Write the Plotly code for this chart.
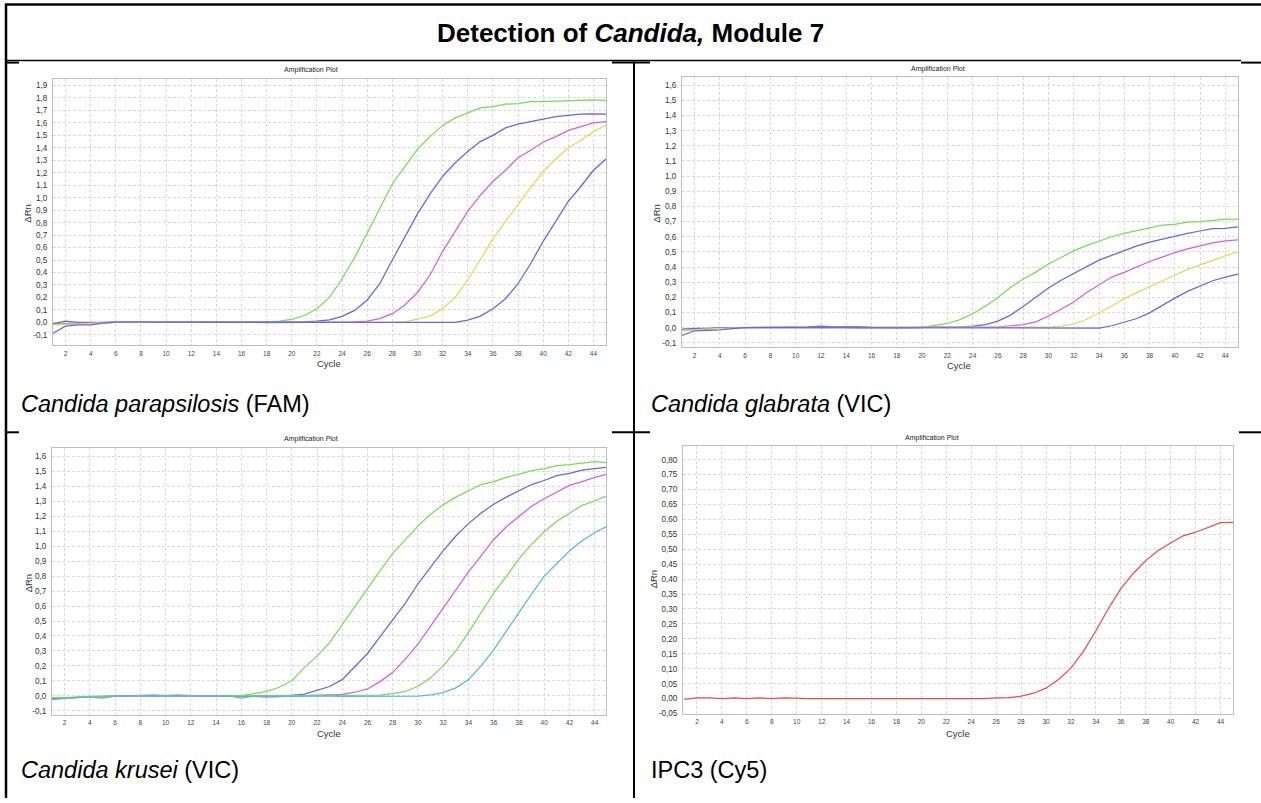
import plotly.graph_objects as go

W, H = 1261, 803

# ---------------- data ----------------
cycles = list(range(1, 46))

# Panel 1: Candida parapsilosis (FAM)
fam_green = [-0.01, -0.01, -0.008, -0.005, 0.0, 0.002, 0.002, 0.002, 0.001, 0.0,
             0.001, 0.0, 0.001, 0.001, 0.001, 0.001, 0.0, 0.0, 0.01, 0.025,
             0.055, 0.11, 0.2, 0.35, 0.52, 0.72, 0.92, 1.11, 1.25, 1.39,
             1.49, 1.58, 1.64, 1.68, 1.72, 1.73, 1.75, 1.755, 1.77, 1.77,
             1.775, 1.78, 1.78, 1.785, 1.78]
fam_blue1 = [-0.01, 0.01, 0.0, -0.003, 0.0, 0.003, 0.003, 0.002, 0.003, 0.002,
             0.002, 0.002, 0.003, 0.003, 0.003, 0.003, 0.002, 0.0, 0.0, 0.002,
             0.005, 0.01, 0.02, 0.048, 0.096, 0.18, 0.31, 0.50, 0.69, 0.87,
             1.03, 1.17, 1.28, 1.37, 1.45, 1.50, 1.56, 1.59, 1.61, 1.63,
             1.65, 1.66, 1.67, 1.672, 1.67]
fam_magenta = [-0.015, -0.015, -0.01, -0.005, 0.0, 0.001, 0.001, 0.0, 0.001, 0.0,
               0.0, 0.001, 0.0, 0.0, 0.001, 0.0, 0.0, -0.002, -0.003, -0.003,
               0.0, 0.003, 0.003, 0.004, 0.005, 0.01, 0.03, 0.07, 0.14, 0.24,
               0.38, 0.57, 0.73, 0.89, 1.02, 1.13, 1.22, 1.32, 1.38, 1.445,
               1.49, 1.54, 1.57, 1.60, 1.61]
fam_yellow = [-0.02, -0.015, -0.01, -0.005, 0.0, 0.0, 0.001, 0.0, 0.0, 0.0,
              0.0, 0.0, 0.0, 0.0, 0.0, 0.0, 0.0, -0.001, -0.002, -0.002,
              -0.002, -0.002, -0.002, -0.002, -0.002, -0.002, 0.0, 0.0, 0.005, 0.025,
              0.05, 0.11, 0.2, 0.34, 0.51, 0.67, 0.81, 0.95, 1.08, 1.21,
              1.31, 1.40, 1.46, 1.53, 1.58]
fam_blue2 = [-0.087, -0.03, -0.02, -0.02, -0.005, 0.002, 0.002, 0.001, 0.001, 0.0,
             0.0, 0.0, 0.0, 0.0, 0.0, 0.0, 0.0, 0.0, 0.0, 0.0,
             0.0, 0.0, -0.003, -0.003, -0.003, -0.003, -0.003, -0.003, -0.003, -0.003,
             -0.003, -0.002, 0.0, 0.019, 0.05, 0.11, 0.19, 0.31, 0.47, 0.65,
             0.81, 0.97, 1.09, 1.22, 1.31]

# Panel 2: Candida glabrata (VIC)
gla_green = [-0.015, -0.012, -0.005, -0.003, 0.0, 0.0, 0.002, 0.002, 0.001, 0.0,
             0.0, 0.0, 0.0, 0.0, -0.003, -0.003, -0.003, -0.003, -0.002, 0.0,
             0.015, 0.028, 0.054, 0.092, 0.142, 0.20, 0.267, 0.321, 0.367, 0.42,
             0.463, 0.507, 0.542, 0.573, 0.60, 0.623, 0.64, 0.656, 0.677, 0.682,
             0.697, 0.70, 0.708, 0.717, 0.717]
gla_blue1 = [-0.01, -0.005, -0.005, 0.0, 0.0, 0.0, 0.0, 0.0, 0.0, 0.0,
             0.005, 0.01, 0.005, 0.008, 0.008, 0.003, 0.0, 0.0, 0.0, 0.0,
             0.0, 0.004, 0.005, 0.01, 0.02, 0.044, 0.083, 0.14, 0.20, 0.262,
             0.313, 0.359, 0.405, 0.446, 0.477, 0.51, 0.54, 0.564, 0.584, 0.60,
             0.623, 0.638, 0.654, 0.656, 0.665]
gla_magenta = [-0.015, -0.012, -0.008, -0.004, 0.0, 0.0, 0.0, 0.0, 0.0, 0.0,
               0.0, 0.0, 0.0, 0.0, 0.0, 0.0, 0.0, 0.0, 0.0, 0.0,
               0.0, 0.0, 0.0, 0.0, 0.0, 0.005, 0.013, 0.02, 0.039, 0.077,
               0.122, 0.17, 0.231, 0.28, 0.334, 0.365, 0.402, 0.437, 0.466, 0.496,
               0.52, 0.54, 0.56, 0.573, 0.579]
gla_yellow = [-0.018, -0.012, -0.008, -0.004, -0.002, 0.0, 0.0, 0.0, 0.0, 0.0,
              0.0, 0.0, 0.0, 0.0, 0.0, 0.0, 0.0, 0.0, 0.0, 0.0,
              0.0, 0.0, 0.0, 0.0, 0.0, 0.0, 0.0, 0.0, 0.0, 0.004,
              0.01, 0.024, 0.054, 0.096, 0.142, 0.192, 0.234, 0.271, 0.308, 0.348,
              0.385, 0.415, 0.446, 0.474, 0.50]
gla_blue2 = [-0.05, -0.02, -0.017, -0.015, -0.006, 0.0, 0.0, 0.0, 0.0, 0.0,
             0.0, 0.0, 0.0, 0.0, 0.0, 0.0, 0.0, 0.0, 0.0, 0.0,
             0.0, 0.0, 0.0, -0.002, -0.002, -0.002, -0.003, -0.003, -0.003, -0.003,
             -0.004, -0.003, -0.004, -0.002, 0.013, 0.035, 0.061, 0.098, 0.149, 0.195,
             0.24, 0.277, 0.31, 0.334, 0.354]

# Panel 3: Candida krusei (VIC)
kru_green1 = [-0.015, -0.015, -0.01, -0.008, -0.005, 0.0, 0.0, 0.002, 0.002, 0.002,
              0.002, 0.002, 0.0, 0.0, 0.0, 0.002, 0.015, 0.03, 0.057, 0.10,
              0.19, 0.265, 0.355, 0.477, 0.60, 0.72, 0.837, 0.952, 1.045, 1.134,
              1.213, 1.277, 1.328, 1.372, 1.412, 1.432, 1.46, 1.48, 1.505, 1.518,
              1.538, 1.545, 1.553, 1.565, 1.558]
kru_blue = [-0.015, -0.012, -0.01, -0.005, -0.005, 0.0, 0.002, 0.002, 0.005, 0.002,
            0.005, 0.002, 0.003, 0.0, 0.0, 0.0, 0.002, 0.0, 0.0, 0.003,
            0.012, 0.035, 0.062, 0.108, 0.197, 0.283, 0.395, 0.51, 0.62, 0.749,
            0.86, 0.97, 1.068, 1.151, 1.222, 1.28, 1.328, 1.372, 1.412, 1.439,
            1.472, 1.487, 1.509, 1.518, 1.527]
kru_magenta = [-0.02, -0.015, -0.01, -0.005, -0.003, 0.0, 0.0, 0.002, 0.0, 0.002,
               0.0, 0.0, 0.002, 0.0, 0.0, 0.0, -0.003, -0.008, -0.005, -0.003,
               0.0, 0.0, 0.002, 0.01, 0.024, 0.046, 0.095, 0.157, 0.245, 0.345,
               0.466, 0.588, 0.71, 0.829, 0.935, 1.045, 1.13, 1.20, 1.267, 1.317,
               1.361, 1.406, 1.432, 1.46, 1.482]
kru_green2 = [-0.012, -0.012, -0.008, -0.004, -0.002, 0.0, 0.0, 0.0, 0.0, 0.0,
              0.0, 0.0, 0.0, 0.0, 0.0, 0.0, 0.0, 0.0, 0.0, 0.0,
              0.0, 0.0, 0.0, 0.0, 0.0, 0.0, 0.004, 0.015, 0.029, 0.064,
              0.12, 0.20, 0.30, 0.422, 0.554, 0.687, 0.798, 0.915, 1.012, 1.096,
              1.167, 1.222, 1.273, 1.302, 1.337]
kru_cyan = [-0.025, -0.015, -0.01, -0.008, -0.015, -0.002, 0.0, 0.0, 0.0, 0.002,
            0.0, 0.0, 0.002, 0.0, 0.0, -0.015, -0.002, -0.003, -0.002, -0.002,
            -0.002, -0.002, -0.002, -0.003, -0.003, -0.003, -0.003, -0.003, -0.002, -0.002,
            0.007, 0.022, 0.053, 0.108, 0.20, 0.307, 0.433, 0.559, 0.68, 0.798,
            0.886, 0.968, 1.036, 1.09, 1.134]

# Panel 4: IPC3 (Cy5)
ipc_red = [-0.003, 0.002, 0.002, 0.0, 0.002, 0.0, 0.002, 0.0, 0.002, 0.0,
           0.0, 0.0, 0.0, 0.0, -0.002, 0.0, 0.0, -0.002, -0.002, -0.002,
           -0.002, -0.002, 0.0, 0.0, 0.0, 0.002, 0.003, 0.008, 0.018, 0.035,
           0.064, 0.102, 0.158, 0.227, 0.301, 0.368, 0.419, 0.462, 0.496, 0.521,
           0.545, 0.557, 0.574, 0.589, 0.59]

x_tick_vals = list(range(2, 46, 2))
x_tick_text = [str(v) for v in x_tick_vals]

y_ticks_19 = [round(-0.1 + 0.1 * i, 2) for i in range(21)]
y_text_19 = ["-0,1", "0,0", "0,1", "0,2", "0,3", "0,4", "0,5", "0,6", "0,7", "0,8", "0,9",
             "1,0", "1,1", "1,2", "1,3", "1,4", "1,5", "1,6", "1,7", "1,8", "1,9"]
y_ticks_16 = y_ticks_19[:18]
y_text_16 = y_text_19[:18]
y_ticks_08 = [round(-0.05 + 0.05 * i, 2) for i in range(18)]
y_text_08 = ["-0,05", "0,00", "0,05", "0,10", "0,15", "0,20", "0,25", "0,30", "0,35",
             "0,40", "0,45", "0,50", "0,55", "0,60", "0,65", "0,70", "0,75", "0,80"]

panel_labels = ["<i>Candida parapsilosis</i> (FAM)", "<i>Candida glabrata</i> (VIC)",
                "<i>Candida krusei</i> (VIC)", "IPC3 (Cy5)"]
title_text = "<b>Detection of <i>Candida,</i> Module 7</b>"

C_GREEN = "#6fe04f"
C_BLUE = "#6464ec"
C_MAG = "#d95ce8"
C_YEL = "#dcdc55"
C_CYAN = "#5db3ee"
C_RED = "#ee4a4a"

FONT = "Liberation Sans, Arial, sans-serif"

def fx(px):
    return px / W

def fy(py):
    return 1 - py / H

# panel geometry (pixels): left, right, top, bottom, y range, x range
panels = [
    dict(ax="", l=53, r=606, t=79, b=347, yr=[-0.18, 1.956], xr=[1, 45],
         yt=y_ticks_19, ytt=y_text_19,
         series=[(fam_green, C_GREEN), (fam_blue1, C_BLUE), (fam_magenta, C_MAG),
                 (fam_yellow, C_YEL), (fam_blue2, C_BLUE)]),
    dict(ax="2", l=682, r=1238, t=77, b=349, yr=[-0.126, 1.657], xr=[1, 45],
         yt=y_ticks_16, ytt=y_text_16,
         series=[(gla_green, C_GREEN), (gla_blue1, C_BLUE), (gla_magenta, C_MAG),
                 (gla_yellow, C_YEL), (gla_blue2, C_BLUE)]),
    dict(ax="3", l=52, r=606, t=451, b=719, yr=[-0.125, 1.655], xr=[1, 44.9],
         yt=y_ticks_16, ytt=y_text_16,
         series=[(kru_green1, C_GREEN), (kru_blue, C_BLUE), (kru_magenta, C_MAG),
                 (kru_green2, C_GREEN), (kru_cyan, C_CYAN)]),
    dict(ax="4", l=683, r=1233, t=449, b=718, yr=[-0.05, 0.845], xr=[0.88, 45],
         yt=y_ticks_08, ytt=y_text_08,
         series=[(ipc_red, C_RED)]),
]

fig = go.Figure()
layout = dict(
    width=W, height=H, margin=dict(l=0, r=0, t=0, b=0),
    paper_bgcolor="white", plot_bgcolor="white", showlegend=False,
    font=dict(family=FONT, color="#222"),
)

annotations = []
for p in panels:
    a = p["ax"]
    for ser, col in p["series"]:
        fig.add_trace(go.Scatter(x=cycles, y=ser, mode="lines",
                                 line=dict(color=col, width=1.25),
                                 xaxis="x" + a, yaxis="y" + a, hoverinfo="skip"))
    layout["xaxis" + a] = dict(
        domain=[fx(p["l"]), fx(p["r"])], range=p["xr"], anchor="y" + a,
        tickmode="array", tickvals=x_tick_vals, ticktext=x_tick_text,
        tickfont=dict(size=6.5, color="#444"), ticks="", ticklabelstandoff=2,
        showgrid=True, gridcolor="#d9d9d9", griddash="3px,2px", gridwidth=1,
        showline=True, linecolor="#bdbdbd", linewidth=1, mirror=True,
        zeroline=False, fixedrange=True)
    layout["yaxis" + a] = dict(
        domain=[fy(p["b"]), fy(p["t"])], range=p["yr"], anchor="x" + a,
        tickmode="array", tickvals=p["yt"], ticktext=p["ytt"],
        tickfont=dict(size=8.2, color="#333"), ticks="", ticklabelstandoff=3,
        showgrid=True, gridcolor="#d9d9d9", griddash="3px,2px", gridwidth=1,
        showline=True, linecolor="#bdbdbd", linewidth=1, mirror=True,
        zeroline=False, fixedrange=True)

# small plot texts: Amplification Plot, ΔRn, Cycle
small = [
    (311, 70, "Amplification Plot"), (938, 69, "Amplification Plot"),
    (311, 442, "Amplification Plot"), (932, 441, "Amplification Plot"),
]
for x, y, t in small:
    annotations.append(dict(x=fx(x), y=fy(y), xref="paper", yref="paper", text=t,
                            showarrow=False, font=dict(size=7, color="#222"),
                            xanchor="center", yanchor="middle"))
for x, y in [(329, 366), (959, 368), (329, 738), (958, 738)]:
    annotations.append(dict(x=fx(x), y=fy(y), xref="paper", yref="paper", text="Cycle",
                            showarrow=False, font=dict(size=9.5, color="#333"),
                            xanchor="center", yanchor="middle"))
for x, y in [(28, 215), (657, 215), (28, 587), (653, 583)]:
    annotations.append(dict(x=fx(x), y=fy(y), xref="paper", yref="paper", text="ΔRn",
                            showarrow=False, textangle=-90,
                            font=dict(size=9.5, color="#333"),
                            xanchor="center", yanchor="middle"))

# panel captions
for (x, y), t in zip([(19, 407), (649, 407), (19, 775), (649, 775)], panel_labels):
    annotations.append(dict(x=fx(x), y=fy(y), xref="paper", yref="paper", text=t,
                            showarrow=False, font=dict(size=23.5, color="black"),
                            xanchor="left", yanchor="middle"))
# title
annotations.append(dict(x=fx(630), y=fy(33), xref="paper", yref="paper", text=title_text,
                        showarrow=False, font=dict(size=26, color="black"),
                        xanchor="center", yanchor="middle"))
layout["annotations"] = annotations

# table lines
def seg(x0, y0, x1, y1, w=2):
    return dict(type="line", xref="paper", yref="paper",
                x0=fx(x0), y0=fy(y0), x1=fx(x1), y1=fy(y1),
                line=dict(color="black", width=w))

layout["shapes"] = [
    seg(5, 4.5, 1261, 4.5, 2.5),
    seg(6, 4, 6, 803, 2.5),
    seg(6, 61, 1241, 61, 1.5),
    seg(6, 63, 19, 63, 2),
    seg(612, 63, 650, 63, 2),
    seg(1241, 63, 1261, 63, 2),
    seg(634, 62, 634, 803, 2),
    seg(6, 435, 19, 435, 2),
    seg(612, 435, 650, 435, 2),
    seg(1239, 435, 1261, 435, 2),
]

fig.update_layout(**layout)
fig.write_html("out.html")
